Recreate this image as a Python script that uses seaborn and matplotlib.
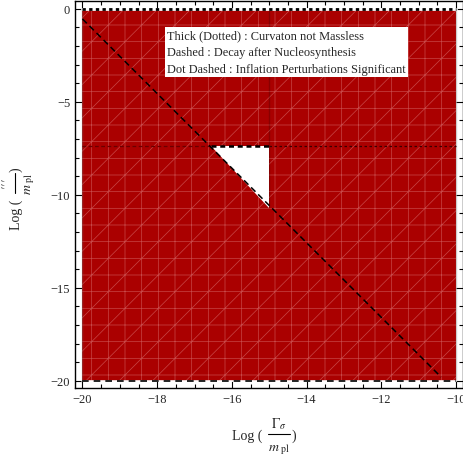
import matplotlib
matplotlib.use("Agg")
import matplotlib.pyplot as plt
import seaborn as sns
from matplotlib.lines import Line2D
from matplotlib.ticker import MultipleLocator

# data ranges of the scan (log10 values)
gamma_range = [-20, -10]
mass_range = [-20, 0]

# constraint curves
nucleo_x = [-20, -10.4]      # decay after nucleosynthesis (dashed)
nucleo_y = [-0.55, -19.8]
massless_y = -7.4             # curvaton not massless (dotted)
perturb_x = -15               # inflation perturbations significant (dot dashed)

# allowed region (white triangle)
allowed_x = [-16.55, -15, -15]
allowed_y = [-7.4, -7.4, -10.7]

legend_lines = [
    "Thick (Dotted) : Curvaton not Massless",
    "Dashed : Decay after Nucleosynthesis",
    "Dot Dashed : Inflation Perturbations Significant",
]

sns.set_style("ticks")
plt.rcParams['font.family'] = ['Liberation Serif', 'DejaVu Serif']
plt.rcParams['mathtext.fontset'] = 'stix'
plt.rcParams['hatch.linewidth'] = 0.5

W, H = 463, 460
fig = plt.figure(figsize=(W / 100, H / 100), dpi=100)
ax = fig.add_axes([0.162, 0.154, 0.839, 0.841])

# excluded region: everything in the box
x0, x1 = gamma_range
y0, y1 = mass_range
ax.fill([x0, x1, x1, x0], [y0, y0, y1, y1], facecolor='#aa0000',
        edgecolor='#c84848', linewidth=0, hatch='/+', zorder=1)
ax.fill(allowed_x, allowed_y, facecolor='white', edgecolor='none', zorder=2)

# box borders
for xs, ys, ls, lw in [([x0, x1], [y1, y1], (0, (1.2, 1.2)), 2.0),
                       ([x1, x1], [y1, y0], (0, (1.2, 1.2)), 2.0),
                       ([x0, x0], [y1, y0], (0, (4, 3)), 1.2),
                       ([x0, x1], [y0, y0], (0, (4, 3)), 1.2)]:
    sns.lineplot(x=xs, y=ys, ax=ax, color='white', lw=lw, sort=False, zorder=3)
    sns.lineplot(x=xs, y=ys, ax=ax, color='black', lw=lw, linestyle=ls,
                 sort=False, zorder=4)

# curvaton not massless
sns.lineplot(x=[x0, allowed_x[0]], y=[massless_y, massless_y], ax=ax,
             color='#6a0000', lw=0.9, linestyle=(0, (3, 2)), sort=False, zorder=3)
sns.lineplot(x=[allowed_x[0], perturb_x], y=[massless_y, massless_y], ax=ax,
             color='black', lw=1.8, linestyle=(0, (2, 1.5)), sort=False, zorder=4)
sns.lineplot(x=[perturb_x, x1], y=[massless_y, massless_y], ax=ax,
             color='#3a0000', lw=0.9, linestyle=(0, (2, 2)), sort=False, zorder=3)

# inflation perturbations
sns.lineplot(x=[perturb_x, perturb_x], y=[y1, massless_y], ax=ax,
             color='black', lw=1.0, linestyle=(0, (4, 1.5, 1, 1.5)), sort=False, zorder=4)
sns.lineplot(x=[perturb_x, perturb_x], y=[massless_y, allowed_y[2]], ax=ax,
             color='black', lw=1.0, linestyle=(0, (4, 1.5)), sort=False, zorder=4)

# decay after nucleosynthesis
sns.lineplot(x=nucleo_x, y=nucleo_y, ax=ax, color='black', lw=1.1,
             linestyle=(0, (4, 2.5)), sort=False, zorder=4)

ax.set_xlim(-20.2, -9.8)
ax.set_ylim(-20.4, 0.4)
ax.xaxis.set_major_locator(MultipleLocator(2))
ax.xaxis.set_minor_locator(MultipleLocator(0.5))
ax.yaxis.set_major_locator(MultipleLocator(5))
ax.yaxis.set_minor_locator(MultipleLocator(1))
ax.tick_params(which='both', direction='in', top=True, right=True,
               labelsize=9, width=0.8, color='black')
ax.tick_params(which='major', length=5)
ax.tick_params(which='minor', length=3)
for s in ax.spines.values():
    s.set_linewidth(1.0)
    s.set_color('black')


# axis labels built like Mathematica's fraction layout (pixel positions)
def ftxt(px, py, s, **kw):
    fig.text(px / W, 1 - py / H, s, **kw)


def fbar(xa, ya, xb, yb):
    fig.add_artist(Line2D([xa / W, xb / W], [1 - ya / H, 1 - yb / H],
                          color='black', lw=0.8))


# x label: Log( Gamma_sigma / m_pl )
ftxt(262, 436, "Log (", fontsize=10, ha='right', va='center')
ftxt(279, 424, r"$\Gamma_{\sigma}$", fontsize=10, ha='center', va='center')
fbar(268, 435, 290, 435)
ftxt(279, 450, r"$m_{\ \mathrm{pl}}$", fontsize=10, ha='center', va='center')
ftxt(292, 436, ")", fontsize=10, ha='left', va='center')

# y label: Log( ''' / m_pl ), rotated
ftxt(16, 200, "Log (", fontsize=10, ha='center', va='top', rotation=90)
ftxt(6, 184, r"$\prime\prime\prime$", fontsize=9, ha='center', va='center', rotation=90)
fbar(15, 194, 15, 174)
ftxt(30, 184, r"$m_{\ \mathrm{pl}}$", fontsize=10, ha='center', va='center', rotation=90)
ftxt(16, 172, ")", fontsize=10, ha='center', va='bottom', rotation=90)

ftxt(167, 30, "\n".join(legend_lines), fontsize=8.9,
     va='top', ha='left', linespacing=1.55,
     bbox=dict(facecolor='white', edgecolor='none', pad=1.5), zorder=10)

fig.savefig("out.png", dpi=100)
